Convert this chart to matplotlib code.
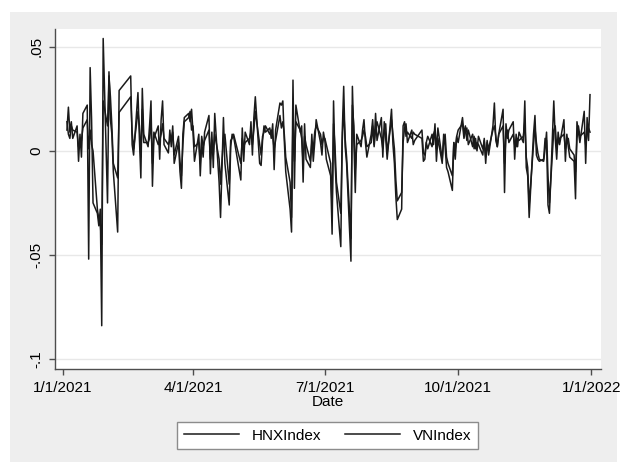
"""Daily returns of HNX-Index and VN-Index over 2021 (Stata-style line chart)."""

import matplotlib

matplotlib.use("Agg")
import matplotlib.pyplot as plt
import pandas as pd
from matplotlib.patches import Rectangle

# Vietnamese exchange holidays falling on weekdays in 2021
holidays = [
    "2021-01-01", "2021-02-10", "2021-02-11", "2021-02-12", "2021-02-15",
    "2021-02-16", "2021-04-21", "2021-04-30", "2021-05-03", "2021-09-02",
    "2021-09-03",
]

hnx = [
    # Jan
    0.010, 0.021, 0.009, 0.014, 0.006, 0.012, -0.005, 0.008, -0.003, 0.018,
    0.022, -0.052, 0.040, 0.015, -0.025, -0.030, -0.036, -0.028, -0.084, 0.054,
    # Feb
    -0.025, 0.038, 0.015, 0.008, -0.010, -0.039, 0.029, 0.036, 0.003, -0.002,
    0.028, 0.006, -0.013, 0.030, 0.008,
    # Mar
    0.002, 0.012, 0.024, -0.017, 0.006, 0.012, -0.004, 0.015, 0.024, 0.003,
    -0.001, 0.010, 0.002, 0.012, -0.006, 0.004, -0.010, -0.018, 0.008, 0.016,
    0.018, 0.014, 0.020,
    # Apr
    0.009, -0.005, 0.008, -0.012, 0.004, -0.003, 0.009, 0.017, -0.011, 0.009,
    -0.008, 0.018, -0.015, -0.032, 0.016, -0.006, -0.026, 0.002, 0.008, 0.007,
    # May
    -0.014, 0.011, -0.005, 0.009, 0.003, 0.014, -0.002, 0.016, 0.026, -0.006,
    -0.007, 0.005, 0.012, 0.009, 0.011, 0.006, 0.013, -0.009, 0.010, 0.023,
    # Jun
    0.022, 0.024, 0.005, -0.010, -0.028, -0.039, 0.034, -0.018, 0.022, 0.009,
    0.012, -0.015, 0.013, -0.004, -0.008, 0.008, -0.005, 0.004, 0.015, 0.004,
    -0.002, 0.009,
    # Jul
    0.005, -0.004, -0.012, -0.040, 0.024, -0.005, -0.020, -0.046, 0.009, 0.031,
    0.002, -0.006, -0.053, 0.031, 0.005, -0.020, 0.008, 0.002, 0.010, 0.015,
    0.004, -0.003,
    # Aug
    0.008, 0.015, 0.003, 0.018, 0.005, 0.016, -0.003, 0.014, 0.006, -0.004,
    0.020, 0.003, -0.006, -0.022, -0.033, -0.028, 0.012, 0.014, 0.007, 0.009,
    0.006, 0.009,
    # Sep
    0.008, 0.006, -0.005, -0.004, 0.004, 0.001, 0.008, 0.003, 0.013, -0.005,
    0.006, -0.006, 0.008, 0.002, -0.008, -0.010, -0.019, 0.004, -0.004, 0.007,
    # Oct
    0.004, 0.016, 0.008, 0.012, 0.005, 0.010, 0.002, 0.007, 0.001, 0.004,
    0.003, -0.002, 0.006, -0.006, 0.005, -0.002, 0.012, 0.023, 0.005, 0.002,
    0.008,
    # Nov
    0.020, -0.020, 0.013, 0.006, 0.010, 0.014, -0.004, 0.008, 0.002, 0.009,
    0.004, 0.024, -0.008, -0.012, -0.032, 0.008, 0.017, -0.002, -0.004, -0.005,
    -0.004, 0.006,
    # Dec
    0.005, -0.026, -0.030, 0.024, 0.006, -0.004, 0.009, 0.003, 0.015, -0.005,
    0.008, 0.002, -0.003, -0.005, -0.023, 0.014, 0.009, 0.004, 0.019, -0.006,
    0.016, 0.005, 0.027,
]

vn = [
    # Jan
    0.014, 0.008, 0.006, 0.012, 0.010, 0.009, 0.002, 0.004, 0.005, 0.011,
    0.015, 0.001, 0.010, 0.003, 0.000, -0.028, -0.033, -0.035, -0.045, 0.024,
    # Feb
    0.012, 0.036, 0.026, 0.012, -0.006, -0.013, 0.0185, 0.026, 0.009, 0.001,
    0.019, 0.012, -0.003, 0.020, 0.004,
    # Mar
    0.004, 0.006, 0.015, -0.006, 0.009, 0.003, 0.005, 0.008, 0.013, 0.006,
    0.003, 0.005, 0.006, 0.009, -0.002, 0.007, -0.005, -0.012, 0.003, 0.014,
    0.016, 0.019, 0.010,
    # Apr
    0.012, 0.002, 0.004, -0.006, 0.007, 0.002, 0.005, 0.010, -0.004, 0.005,
    -0.002, 0.008, -0.004, -0.016, 0.006, 0.008, -0.016, 0.005, 0.006, 0.008,
    # May
    -0.006, 0.006, 0.002, 0.004, 0.006, 0.009, 0.003, 0.010, 0.019, 0.003,
    -0.002, 0.007, 0.009, 0.012, 0.008, 0.010, 0.007, 0.001, 0.005, 0.017,
    # Jun
    0.011, 0.014, 0.008, -0.003, -0.015, -0.032, 0.015, -0.005, 0.014, 0.010,
    0.006, -0.006, 0.007, 0.003, -0.005, 0.004, 0.001, 0.009, 0.012, 0.008,
    0.003, 0.006,
    # Jul
    0.006, 0.003, -0.006, -0.028, 0.013, 0.002, -0.015, -0.030, 0.005, 0.020,
    0.006, -0.003, -0.042, 0.022, 0.012, -0.009, 0.003, 0.005, 0.007, 0.010,
    0.007, 0.002,
    # Aug
    0.004, 0.012, 0.002, 0.010, 0.014, 0.006, 0.001, 0.010, 0.013, -0.001,
    0.015, 0.008, 0.001, -0.014, -0.024, -0.020, 0.004, 0.011, 0.013, 0.004,
    0.010, 0.003,
    # Sep
    0.005, 0.010, -0.001, -0.002, 0.004, 0.007, 0.002, 0.008, 0.010, 0.001,
    0.011, -0.004, 0.005, 0.008, -0.003, -0.006, -0.012, 0.004, 0.001, 0.007,
    # Oct
    0.010, 0.013, 0.006, 0.009, 0.011, 0.003, 0.008, 0.001, 0.006, 0.000,
    0.007, 0.001, 0.005, -0.003, 0.004, 0.001, 0.010, 0.012, 0.007, 0.002,
    0.008,
    # Nov
    0.012, -0.006, 0.008, 0.010, 0.004, 0.008, 0.003, 0.002, 0.006, 0.005,
    0.007, 0.014, -0.003, -0.008, -0.026, 0.003, 0.011, 0.004, -0.001, -0.004,
    -0.005, 0.001,
    # Dec
    0.009, -0.012, -0.025, 0.010, 0.012, 0.002, 0.004, 0.006, 0.008, 0.001,
    0.004, 0.006, 0.001, -0.002, -0.010, 0.006, 0.012, 0.007, 0.009, 0.003,
    0.008, 0.011, 0.009,
]

series_labels = ["HNXIndex", "VNIndex"]
y_ticks = [0.05, 0.0, -0.05, -0.1]
y_tick_labels = [".05", "0", "-.05", "-.1"]
x_ticks = ["2021-01-01", "2021-04-01", "2021-07-01", "2021-10-01", "2022-01-01"]
x_tick_labels = ["1/1/2021", "4/1/2021", "7/1/2021", "10/1/2021", "1/1/2022"]

W, H = 622, 462
BG = "#eeeeee"
AXIS = "#4d4d4d"

plt.rcParams["font.family"] = ["Liberation Sans", "DejaVu Sans"]

days = pd.bdate_range("2021-01-04", "2021-12-31")
days = days[~days.isin(pd.to_datetime(holidays))]
assert len(days) == len(hnx) == len(vn), (len(days), len(hnx), len(vn))

fig = plt.figure(figsize=(W / 100, H / 100), dpi=100, facecolor="white")
fig.add_artist(Rectangle((10 / W, 0), 607 / W, 1 - 12 / H, transform=fig.transFigure,
                         facecolor=BG, edgecolor="none", zorder=-10))

# plot region in pixels: x 55..601, y 28.7..369
ax = fig.add_axes([55 / W, 1 - 369 / H, 546 / W, 340.3 / H])
ax.set_facecolor("white")

ax.plot(days, hnx, color="#1a1a1a", linewidth=1.1, label=series_labels[0])
ax.plot(days, vn, color="#1a1a1a", linewidth=1.1, label=series_labels[1])

ax.set_ylim(-0.1048, 0.0587)
ax.set_xlim(pd.Timestamp("2020-12-26 18:00"), pd.Timestamp("2022-01-07 14:00"))

ax.set_yticks(y_ticks)
ax.set_yticklabels(y_tick_labels, rotation=90, va="center", fontsize=11)
ax.set_xticks(pd.to_datetime(x_ticks))
ax.set_xticklabels(x_tick_labels, fontsize=11)
ax.grid(axis="y", color="#e8e8e8", linewidth=1.0)
ax.set_axisbelow(True)

for side in ("top", "right"):
    ax.spines[side].set_visible(False)
for side in ("left", "bottom"):
    ax.spines[side].set_color(AXIS)
    ax.spines[side].set_linewidth(1.0)
ax.tick_params(direction="out", length=4.5, width=1.0, color=AXIS, pad=4, labelcolor="black")

ax.set_xlabel("Date", fontsize=11, labelpad=0)

fig.legend(loc="center", bbox_to_anchor=(327.5 / W, 1 - 435.5 / H), ncol=2,
           fontsize=11, frameon=True, fancybox=False, edgecolor="#8c8c8c",
           framealpha=1.0, handlelength=3.6, handletextpad=0.8,
           columnspacing=1.6, borderpad=0.45)

fig.savefig("out.png", dpi=100, facecolor="white")
